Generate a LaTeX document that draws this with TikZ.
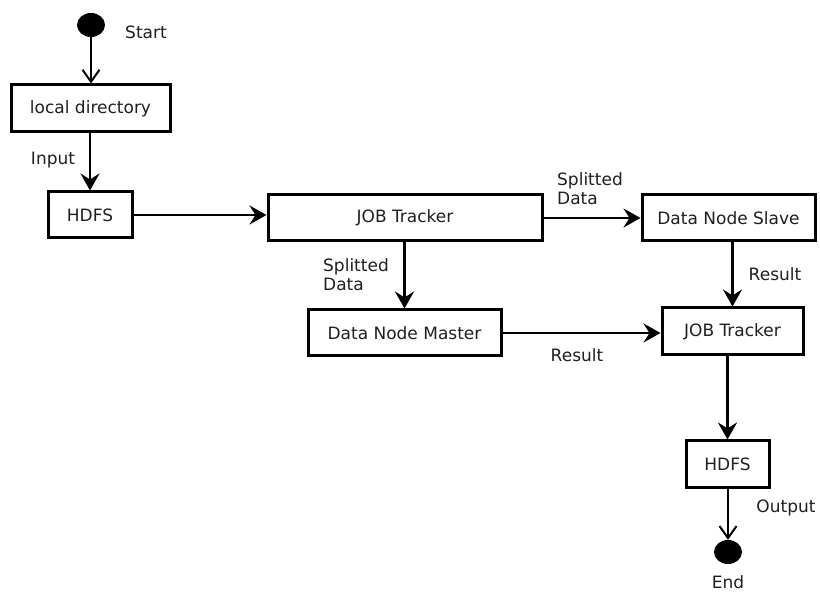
\documentclass[tikz,border=0pt]{standalone}
\usepackage{fontspec}
\setmainfont{DejaVu Sans}
\usetikzlibrary{arrows.meta,shapes.geometric}
\begin{document}
\begin{tikzpicture}[x=1pt,y=-1pt,
  every node/.style={font=\fontsize{17}{19}\selectfont, text=black!88},
  box/.style={draw=black, line width=3pt, inner sep=0pt, align=center},
  dot/.style={ellipse, fill=black, draw=none, minimum width=28pt, minimum height=24pt, inner sep=0pt},
  lbl/.style={inner sep=0pt, align=left},
  flow/.style={line width=2.8pt, -{Stealth[length=17pt,width=19pt,inset=6pt]}},
  thinflow/.style={line width=2.2pt, -{Straight Barb[length=12pt,width=17pt,line width=2pt]}}]
  \useasboundingbox (0,0) rectangle (820,593);

  % nodes
  \node[dot] (start) at (91,25) {};
  \node[box, minimum width=159pt, minimum height=47pt] (local) at (90.5,108.5) {local directory};
  \node[box, minimum width=84pt, minimum height=46pt] (hdfsin) at (90,215) {HDFS};
  \node[box, minimum width=274pt, minimum height=46pt] (jta) at (405,218) {JOB Tracker};
  \node[box, minimum width=173pt, minimum height=46pt] (slave) at (728.5,218) {Data Node Slave};
  \node[box, minimum width=193pt, minimum height=46pt] (master) at (404.5,333) {Data Node Master};
  \node[box, minimum width=141pt, minimum height=47pt] (jtb) at (732.5,331.5) {JOB Tracker};
  \node[box, minimum width=83pt, minimum height=47pt] (hdfsout) at (727.5,464.5) {HDFS};
  \node[dot] (end) at (728,552) {};

  % labels
  \node[lbl] (tstart) at (146,32) {Start};
  \node[lbl] (tinput) at (53,160) {Input};
  \node[lbl, anchor=west] (tsplita) at (557,189) {Splitted\\Data};
  \node[lbl, anchor=west] (tsplitb) at (323,275) {Splitted\\Data};
  \node[lbl] (tresa) at (775,274) {Result};
  \node[lbl] (tresb) at (577,355) {Result};
  \node[lbl] (toutput) at (786,508) {Output};
  \node[lbl] (tend) at (728,582) {End};

  % connectors
  \draw[thinflow] (start.south) -- (start.south |- local.north);
  \draw[flow] (local.south -| hdfsin.north) -- (hdfsin.north);
  \draw[flow] (hdfsin.east) -- (hdfsin.east -| jta.west);
  \draw[flow] (jta.east) -- (slave.west);
  \draw[flow] (jta.south -| master.north) -- (master.north);
  \draw[flow] (slave.south -| jtb.north) -- (jtb.north);
  \draw[flow] (master.east) -- (master.east -| jtb.west);
  \draw[flow] (jtb.south -| hdfsout.north) -- (hdfsout.north);
  \draw[thinflow] (hdfsout.south -| end.north) -- (end.north);
\end{tikzpicture}
\end{document}
